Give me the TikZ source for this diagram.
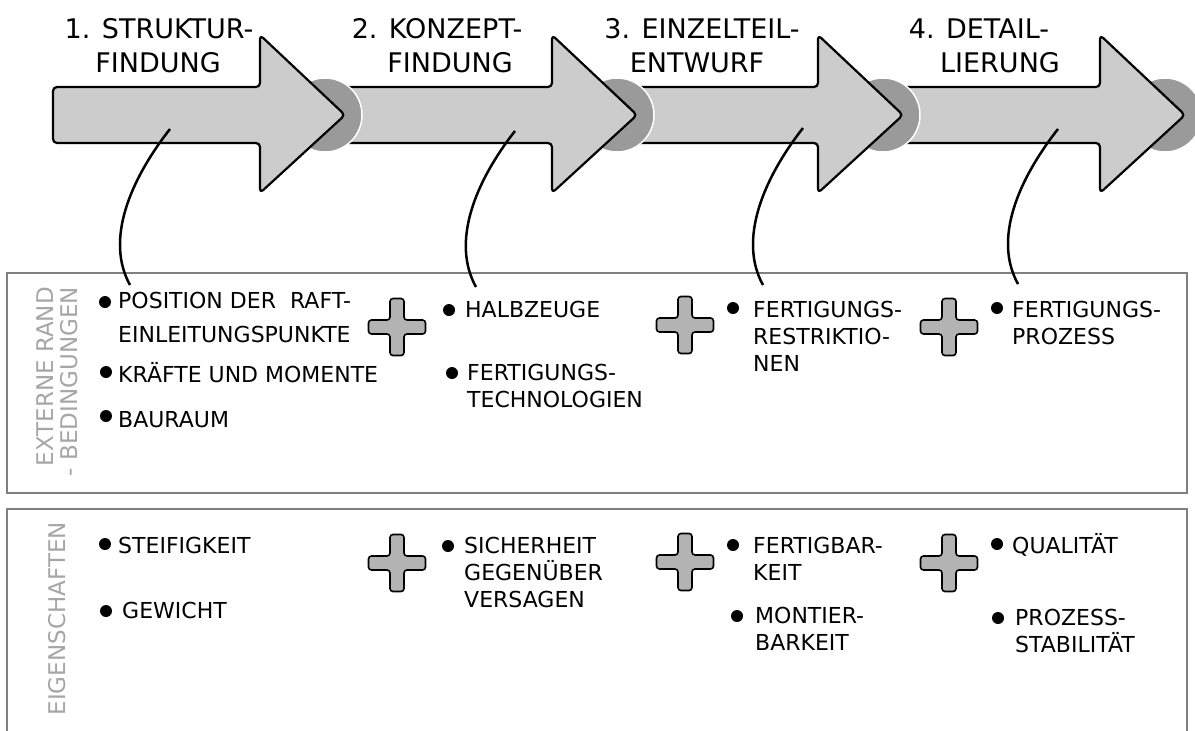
\documentclass[tikz,border=0pt]{standalone}
\usepackage{fontspec}
\setmainfont{DejaVu Sans}
\newcommand\hdfont{\fontsize{27}{34}\selectfont}
\newcommand\itfont{\fontsize{22}{27}\selectfont}
\newcommand\vlfont{\fontsize{23}{28}\selectfont}
\newcommand\fl{\rule{0pt}{22pt}}
\definecolor{arrowgray}{HTML}{CCCCCC}
\definecolor{circgray}{HTML}{9A9A9A}
\definecolor{plusgray}{HTML}{B3B3B3}
\definecolor{boxgray}{HTML}{808080}
\definecolor{labelgray}{HTML}{A6A6A6}
\newcommand{\procarrow}[3]{%
  \draw[arrowshape] (#1,87) -- (#2,87) -- (#2,35) -- (#3,115) -- (#2,193) -- (#2,143) -- (#1,143) -- cycle;}
\tikzset{
  arrowshape/.style={fill=arrowgray, draw=black, line width=2.2pt, rounded corners=4pt, line join=round},
  tipcirc/.style={fill=circgray, draw=white, line width=1.5pt},
  frame/.style={draw=boxgray, line width=2pt},
  link/.style={draw=black, line width=2.5pt},
  head/.style={font=\hdfont, anchor=base, inner sep=0pt},
  item/.style={font=\itfont, anchor=north west, inner sep=0pt, align=left},
  vlabel/.style={font=\vlfont, text=labelgray, anchor=base east, rotate=90, inner sep=0pt},
  bullet/.style={fill=black},
  plusshape/.style={fill=plusgray, draw=black, line width=1.6pt, rounded corners=3pt},
  plus/.pic={\path[plusshape] (-7,-28.5) -- (7,-28.5) -- (7,-7) -- (28.5,-7) -- (28.5,7) -- (7,7) -- (7,28.5) -- (-7,28.5) -- (-7,7) -- (-28.5,7) -- (-28.5,-7) -- (-7,-7) -- cycle;}
}
\begin{document}
\begin{tikzpicture}[x=1pt, y=-1pt]
\useasboundingbox (0,0) rectangle (1195,731);
% arrows (right to left so that each head lies above the next shaft)
\fill[tipcirc] (1165,115) circle (37pt);
\procarrow{890}{1100}{1185}
\fill[tipcirc] (883,115) circle (37pt);
\procarrow{625}{818}{903}
\fill[tipcirc] (617,115) circle (37pt);
\procarrow{335}{552}{637}
\fill[tipcirc] (325,115) circle (37pt);
\procarrow{53}{260}{345}
% headings
\node[head] (h1a) at (159,38) {1. STRUKTUR-};
\node[head] (h1b) at (158,72) {FINDUNG};
\node[head] (h2a) at (437,38) {2. KONZEPT-};
\node[head] (h2b) at (450,72) {FINDUNG};
\node[head] (h3a) at (702,38) {3. EINZELTEIL-};
\node[head] (h3b) at (697,72) {ENTWURF};
\node[head] (h4a) at (979,38) {4. DETAIL-};
\node[head] (h4b) at (1000,72) {LIERUNG};
% frames
\draw[frame] (7,273) rectangle (1187,493);
\draw[frame] (7,731) -- (7,509) -- (1187,509) -- (1187,731);
% vertical labels
\node[vlabel] (v1) at (53,287) {EXTERNE RAND};
\node[vlabel] (v2) at (77,287) {- BEDINGUNGEN};
\node[vlabel] (v3) at (65,522) {EIGENSCHAFTEN};
% connectors
\coordinate (s1) at (170,129); \coordinate (e1) at (130,285);
\coordinate (s2) at (515,131); \coordinate (e2) at (476,287);
\coordinate (s3) at (803,128); \coordinate (e3) at (763,285);
\coordinate (s4) at (1058,129); \coordinate (e4) at (1018,284);
\foreach \i in {1,2,3,4}{
  \draw[link] (s\i) .. controls +(-40,51) and +(-25,-45) .. (e\i);
}
% plus signs
\pic (p1) at (397,327) {plus};
\pic (p2) at (685,325) {plus};
\pic (p3) at (949,327) {plus};
\pic (p4) at (397,563) {plus};
\pic (p5) at (685,562) {plus};
\pic (p6) at (949,563) {plus};
% bullets
\foreach \bx/\by in {105/302, 106/372, 106/416, 449/310, 452/373, 733/308, 997/308,
                     105/544, 106/611, 448/546, 733/545, 737/616, 997/544, 998/618}{
  \fill[bullet] (\bx,\by) circle (6pt);
}
% items, upper frame
\node[item] (a1) at (118,286) {\fl POSITION DER~ RAFT-\\[7pt]EINLEITUNGSPUNKTE};
\node[item] (a2) at (118,360) {\fl KRÄFTE UND MOMENTE};
\node[item] (a3) at (118,405) {\fl BAURAUM};
\node[item] (b1) at (465,295) {\fl HALBZEUGE};
\node[item] (b2) at (467,358) {\fl FERTIGUNGS-\\TECHNOLOGIEN};
\node[item] (c1) at (753,295) {\fl FERTIGUNGS-\\RESTRIKTIO-\\NEN};
\node[item] (d1) at (1012,295) {\fl FERTIGUNGS-\\PROZESS};
% items, lower frame
\node[item] (f1) at (118,531) {\fl STEIFIGKEIT};
\node[item] (f2) at (122,596) {\fl GEWICHT};
\node[item] (g1) at (464,531) {\fl SICHERHEIT\\GEGENÜBER\\VERSAGEN};
\node[item] (h1) at (753,531) {\fl FERTIGBAR-\\KEIT};
\node[item] (h2) at (755,601) {\fl MONTIER-\\BARKEIT};
\node[item] (k1) at (1012,531) {\fl QUALITÄT};
\node[item] (k2) at (1015,603) {\fl PROZESS-\\STABILITÄT};
\end{tikzpicture}
\end{document}
